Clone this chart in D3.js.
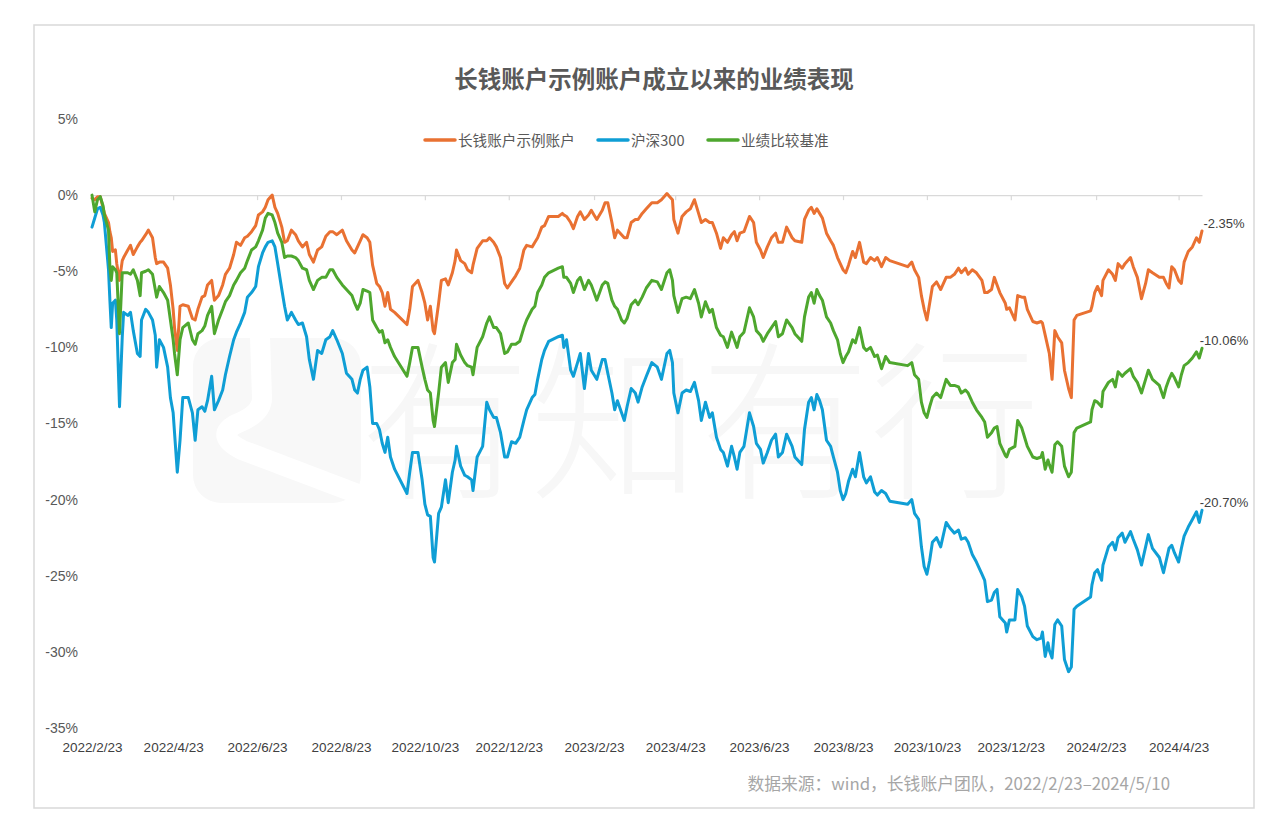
<!DOCTYPE html>
<html><head><meta charset="utf-8">
<script src="https://cdn.jsdelivr.net/npm/d3@7"></script>
<style>body{margin:0;background:#fff;overflow:hidden}</style>
</head><body><svg id="c" width="1280" height="837"></svg>
<script>
// ---- data ----
const startDateLabel = "2022/2/23";
const endDateLabel = "2024/5/10";
// trading-day samples, as day offsets from 2022/2/23
const dayOffsets = [
0,2,4,6,8,9,12,13,14,15,
17,18,20,22,23,26,28,30,33,35,
36,39,41,44,46,47,49,52,55,57,
59,60,62,64,66,70,73,75,77,80,
82,84,87,89,92,95,97,100,103,105,
108,111,113,116,119,121,124,126,128,131,
133,135,138,140,142,145,148,150,153,156,
158,161,164,167,170,173,175,178,182,185,
189,191,193,195,197,200,202,204,207,209,
211,213,215,217,220,229,231,233,237,240,
242,244,246,248,249,252,254,257,259,262,
264,265,268,271,273,276,277,280,284,287,
289,292,294,297,300,302,305,308,311,314,
316,320,322,324,327,329,332,339,342,343,
345,348,350,353,355,358,361,363,365,367,
371,373,375,378,380,382,385,387,389,392,
395,397,400,403,407,411,414,418,420,422,
423,426,429,432,435,438,441,443,446,449,
451,454,457,459,462,465,467,469,471,474,
478,481,483,486,488,491,494,497,499,502,
505,509,511,516,518,521,523,525,527,529,
531,534,537,539,542,544,546,548,550,553,
555,558,561,563,566,569,571,574,577,580,
593,596,598,601,603,605,607,609,611,614,
617,621,624,627,630,632,635,637,640,643,
647,649,651,654,656,658,660,664,665,667,
671,673,676,678,680,684,687,690,691,693,
695,696,698,700,702,705,707,710,712,714,
716,726,727,729,731,734,735,739,742,744,
746,749,751,755,757,760,763,766,768,771,
776,779,781,783,785,787,790,792,794,797,
800,803,805,807];
// 长钱账户示例账户 (%)
const accountValues = [
-0.2,-0.3,-0.1,-0.1,-0.8,-1.2,-1.8,-2.4,-2.8,-3.7,
-3.6,-4.5,-5.6,-4.3,-4.1,-3.6,-3.3,-3.9,-3.4,-3.1,
-3.0,-2.6,-2.3,-2.8,-4.1,-4.5,-4.4,-4.4,-4.8,-5.9,
-7.5,-8.7,-10.2,-7.3,-7.2,-7.3,-8.1,-8.2,-7.5,-6.7,
-6.6,-5.9,-5.6,-6.9,-6.6,-5.9,-5.2,-4.8,-3.9,-3.1,
-3.3,-2.8,-2.7,-2.4,-2.0,-1.3,-1.1,-0.8,-0.3,0.0,
-0.8,-1.2,-2.1,-3.1,-3.0,-2.3,-2.6,-3.0,-3.4,-3.1,
-3.9,-4.4,-3.6,-3.4,-2.7,-2.4,-2.4,-2.6,-2.3,-3.0,
-3.6,-3.8,-3.4,-3.0,-2.6,-2.8,-3.1,-4.6,-5.8,-6.0,
-6.4,-7.3,-6.4,-7.5,-7.7,-8.5,-7.5,-6.0,-5.6,-6.4,
-7.1,-8.2,-7.3,-8.9,-9.1,-7.1,-5.6,-5.5,-5.9,-5.1,
-4.3,-3.6,-4.3,-4.5,-4.9,-5.1,-4.6,-3.5,-3.0,-3.0,
-2.8,-3.1,-3.4,-4.1,-5.8,-6.1,-5.7,-5.3,-4.8,-3.6,
-3.3,-3.4,-3.1,-2.8,-2.1,-2.0,-1.4,-1.4,-1.2,-1.3,
-1.4,-1.8,-2.2,-1.4,-1.1,-1.6,-1.3,-1.0,-1.3,-1.6,
-1.0,-0.5,-0.5,-1.8,-2.8,-2.3,-2.6,-2.8,-2.8,-1.8,
-1.6,-1.6,-1.2,-0.9,-0.5,-0.5,-0.3,0.1,-0.1,-0.3,
-1.6,-2.5,-1.4,-1.1,-0.9,-0.3,-1.2,-1.8,-1.6,-1.8,
-1.8,-2.5,-3.5,-2.8,-3.1,-2.6,-2.4,-3.0,-2.5,-2.4,
-1.4,-1.8,-3.1,-3.6,-4.1,-3.4,-2.8,-2.5,-3.1,-3.1,
-2.1,-2.8,-3.0,-3.1,-1.6,-1.0,-0.8,-1.2,-0.9,-1.2,
-1.5,-2.5,-3.0,-3.3,-4.1,-4.5,-4.9,-5.1,-4.6,-3.7,
-4.1,-3.1,-4.4,-4.5,-4.1,-4.3,-4.1,-4.7,-4.1,-4.3,
-4.7,-4.4,-4.9,-5.4,-6.6,-7.5,-8.2,-7.1,-6.0,-5.7,
-6.2,-5.4,-5.4,-5.2,-4.8,-5.1,-4.8,-5.2,-4.9,-5.1,
-5.6,-6.4,-6.4,-6.2,-5.4,-5.9,-6.4,-7.1,-7.5,-7.4,
-8.2,-6.6,-6.7,-6.7,-7.5,-8.3,-8.4,-8.3,-8.4,-9.2,
-10.0,-10.4,-12.1,-8.9,-9.3,-9.7,-11.5,-12.7,-13.3,-8.2,
-7.9,-7.6,-7.3,-6.4,-6.0,-6.6,-5.6,-4.9,-5.2,-5.6,
-4.5,-4.8,-4.5,-4.1,-4.7,-5.4,-6.8,-5.8,-4.9,-5.1,
-5.4,-5.4,-5.8,-6.1,-4.7,-4.9,-5.6,-5.8,-4.4,-3.7,
-3.4,-2.8,-3.1,-2.35];
// 沪深300 (%)
const csi300Values = [
-2.1,-1.5,-0.9,-0.8,-1.3,-1.8,-4.9,-6.9,-8.7,-7.1,
-6.9,-8.2,-13.9,-9.3,-7.7,-7.9,-7.7,-8.9,-10.4,-10.6,
-8.2,-7.5,-7.7,-8.2,-9.2,-11.3,-9.5,-10.0,-11.3,-13.3,
-14.3,-15.6,-18.2,-16.1,-13.3,-13.3,-14.3,-16.1,-14.1,-13.9,
-14.2,-13.5,-11.9,-14.1,-13.5,-12.8,-11.8,-10.6,-9.5,-9.0,
-8.4,-7.7,-6.7,-6.4,-6.0,-4.7,-3.8,-3.4,-3.1,-3.0,
-3.4,-4.5,-6.2,-7.3,-8.2,-7.7,-8.2,-8.5,-8.4,-9.3,
-10.8,-12.1,-10.2,-10.4,-9.5,-9.3,-8.9,-9.5,-10.4,-11.7,
-12.1,-12.8,-13.0,-12.1,-11.5,-11.3,-12.6,-15.0,-15.0,-15.4,
-16.3,-16.9,-15.9,-17.2,-18.0,-19.6,-18.2,-16.9,-16.9,-18.7,
-20.3,-21.0,-21.1,-23.8,-24.1,-20.9,-20.5,-18.7,-20.2,-18.2,
-17.4,-16.5,-17.8,-18.4,-18.5,-18.7,-19.4,-17.2,-16.5,-13.6,
-14.1,-14.6,-14.6,-15.6,-17.2,-17.2,-16.2,-16.3,-15.9,-14.8,
-14.1,-13.3,-13.1,-12.1,-10.8,-10.2,-9.6,-9.3,-9.2,-10.0,
-9.5,-11.5,-11.9,-11.0,-10.4,-12.7,-10.4,-11.5,-11.8,-12.1,
-10.8,-10.8,-11.7,-13.0,-14.1,-13.5,-14.3,-14.8,-13.9,-12.7,
-13.0,-13.6,-12.6,-11.9,-11.0,-11.3,-12.1,-10.4,-10.2,-11.0,
-13.0,-14.3,-13.0,-12.8,-12.9,-12.3,-13.5,-14.8,-13.6,-14.6,
-14.3,-15.9,-16.7,-16.9,-17.8,-16.5,-17.2,-18.0,-16.9,-16.5,
-14.3,-15.2,-16.3,-16.7,-17.6,-16.9,-16.1,-15.7,-17.2,-16.9,
-15.7,-16.5,-17.2,-17.7,-15.4,-13.6,-13.3,-14.1,-13.1,-13.5,
-14.1,-16.1,-16.5,-17.2,-18.2,-19.4,-20.0,-19.6,-18.8,-18.0,
-18.5,-16.9,-18.5,-18.9,-18.5,-19.5,-19.7,-19.4,-19.6,-20.1,
-20.3,-20.0,-20.9,-21.3,-23.1,-24.4,-24.9,-24.0,-22.8,-22.5,
-23.1,-21.5,-21.9,-22.2,-22.0,-22.6,-22.5,-22.8,-23.6,-24.1,
-24.9,-25.3,-26.7,-26.6,-26.1,-25.9,-27.7,-28.1,-28.7,-27.9,
-27.9,-25.9,-26.4,-27.0,-28.3,-29.0,-29.2,-29.1,-28.7,-30.3,
-29.4,-29.9,-30.4,-28.2,-27.9,-28.3,-30.5,-31.3,-31.0,-27.2,
-27.0,-26.4,-25.6,-24.8,-24.6,-25.3,-24.3,-23.1,-22.8,-23.3,
-22.5,-22.2,-22.8,-22.1,-22.6,-23.3,-24.3,-23.1,-22.3,-23.2,
-23.8,-24.8,-24.0,-23.2,-23.0,-23.5,-24.1,-23.2,-22.4,-21.8,
-21.3,-20.8,-21.5,-20.70];
// 业绩比较基准 (%)
const benchmarkValues = [
0,-1.1,-0.3,-0.1,-0.7,-1.3,-2.3,-4.7,-5.6,-4.7,
-4.9,-5.1,-9.1,-5.1,-5.1,-5.1,-5.2,-4.9,-5.6,-6.6,
-5.1,-5.0,-4.9,-5.2,-6.2,-6.7,-6.0,-6.4,-6.9,-8.2,
-9.5,-10.4,-11.8,-9.5,-8.7,-8.4,-9.5,-9.8,-9.1,-8.9,
-8.6,-7.9,-7.3,-9.1,-8.2,-7.5,-7.0,-6.6,-5.9,-5.6,
-5.1,-4.8,-4.3,-3.6,-3.4,-3.0,-2.3,-1.5,-1.2,-1.3,
-1.8,-2.5,-3.1,-4.1,-4.0,-4.0,-4.1,-4.3,-4.8,-4.9,
-5.6,-6.2,-5.6,-5.4,-5.4,-4.9,-4.9,-5.4,-5.9,-6.2,
-6.6,-7.1,-7.5,-7.1,-6.2,-6.3,-6.4,-8.2,-8.7,-9.0,
-8.9,-9.7,-9.5,-10.0,-10.6,-11.9,-11.0,-10.0,-10.0,-11.3,
-12.1,-12.8,-13.0,-14.8,-15.2,-13.0,-11.3,-11.0,-12.3,-11.0,
-10.8,-9.8,-10.5,-11.0,-11.2,-11.3,-11.8,-10.0,-9.3,-8.4,
-8.0,-8.7,-8.7,-9.1,-10.4,-10.3,-9.8,-9.8,-9.6,-8.7,
-8.2,-7.5,-7.3,-6.4,-5.9,-5.4,-5.1,-4.8,-4.7,-5.4,
-5.4,-5.8,-6.4,-5.6,-5.4,-6.2,-5.6,-5.9,-6.4,-6.9,
-5.9,-5.7,-5.8,-6.9,-7.3,-7.5,-8.2,-8.4,-8.1,-7.2,
-6.9,-7.2,-6.7,-6.1,-5.6,-5.7,-6.2,-5.1,-4.9,-5.6,
-6.6,-7.7,-6.8,-6.7,-6.8,-6.2,-7.1,-8.0,-7.0,-7.7,
-7.5,-8.7,-9.2,-9.3,-10.0,-9.0,-9.5,-10.0,-9.3,-9.0,
-7.4,-8.0,-8.9,-9.2,-9.6,-9.1,-8.7,-8.3,-9.3,-9.1,
-8.2,-8.7,-9.1,-9.6,-8.0,-6.7,-6.4,-7.1,-6.2,-6.6,
-6.9,-8.0,-8.4,-8.9,-9.5,-10.4,-11.0,-10.6,-10.3,-9.5,
-9.7,-8.7,-10.0,-10.2,-10.0,-10.6,-10.5,-11.4,-10.6,-11.0,
-11.2,-11.0,-11.8,-12.1,-13.6,-14.3,-14.6,-13.9,-13.3,-13.0,
-13.3,-12.1,-12.5,-12.5,-12.6,-13.0,-12.8,-13.0,-13.6,-14.1,
-14.6,-14.9,-15.9,-15.6,-15.3,-15.2,-16.3,-17.1,-17.2,-16.7,
-16.5,-14.8,-15.3,-15.9,-16.5,-17.2,-17.3,-17.2,-16.9,-18.0,
-17.4,-17.7,-18.2,-16.4,-16.2,-16.5,-17.8,-18.5,-18.2,-15.6,
-15.3,-14.9,-14.1,-13.5,-13.6,-13.9,-12.9,-12.3,-12.1,-12.6,
-11.6,-11.9,-11.7,-11.4,-11.9,-12.3,-13.0,-12.1,-11.5,-12.1,
-12.5,-13.3,-12.6,-12.1,-11.7,-12.0,-12.6,-11.8,-11.2,-11.0,
-10.7,-10.3,-10.7,-10.06];
const seriesNames = ["长钱账户示例账户", "沪深300", "业绩比较基准"];
const seriesColors = ["#E97132", "#0F9ED5", "#4EA72E"];
const xTickLabels = ["2022/2/23","2022/4/23","2022/6/23","2022/8/23","2022/10/23","2022/12/23",
  "2023/2/23","2023/4/23","2023/6/23","2023/8/23","2023/10/23","2023/12/23","2024/2/23","2024/4/23"];
const yTickValues = [5, 0, -5, -10, -15, -20, -25, -30, -35];
const titleText = "长钱账户示例账户成立以来的业绩表现";
const sourceText = "数据来源：wind，长钱账户团队，2022/2/23–2024/5/10";
const watermarkText = "有知有行";

// ---- drawing ----
const parse = d3.timeParse("%Y/%m/%d");
const start = parse(startDateLabel);
const dates = dayOffsets.map(d => d3.timeDay.offset(start, d));
const seriesValues = [accountValues, csi300Values, benchmarkValues];

const svg = d3.select("#c");
const W = 1280, H = 837;
svg.append("rect").attr("width", W).attr("height", H).attr("fill", "#fff");
svg.append("rect").attr("x", 34).attr("y", 25).attr("width", 1220).attr("height", 783)
  .attr("fill", "#fff").attr("stroke", "#d9d9d9").attr("stroke-width", 1.5);

const x = d3.scaleTime().domain([start, parse(endDateLabel)]).range([92, 1202]);
const y = d3.scaleLinear().domain([-35, 5]).range([728, 119]);

// watermark
const wm = svg.append("g");
wm.append("rect").attr("x", 193).attr("y", 338).attr("width", 168).attr("height", 165).attr("rx", 28)
  .attr("fill", "#f8f8f8");
wm.append("path").attr("d", "M260,336 L262,398 Q262,414 236,424 Q214,436 242,450 L366,497")
  .attr("fill", "none").attr("stroke", "#fff").attr("stroke-width", 20);
wm.append("text").attr("x", 360).attr("y", 486).text(watermarkText)
  .attr("font-family", "'Noto Sans CJK SC'").attr("font-weight", 300).attr("font-size", 170)
  .attr("fill", "#f7f7f7");

// title
svg.append("text").attr("x", 654).attr("y", 88).attr("text-anchor", "middle")
  .attr("font-family", "'Noto Sans CJK SC', sans-serif").attr("font-weight", 700)
  .attr("font-size", 23.5).attr("fill", "#595959").text(titleText);

// legend
const legendX = [425, 598, 708];
const lg = svg.append("g");
seriesNames.forEach((n, i) => {
  lg.append("line").attr("x1", legendX[i]).attr("x2", legendX[i] + 30).attr("y1", 140).attr("y2", 140)
    .attr("stroke", seriesColors[i]).attr("stroke-width", 3.5).attr("stroke-linecap", "round");
  lg.append("text").attr("x", legendX[i] + 33).attr("y", 146).text(n)
    .attr("font-family", "'Noto Sans CJK SC', sans-serif").attr("font-size", 14.6).attr("fill", "#595959");
});

// y axis labels
const yAxis = svg.append("g").attr("transform", "translate(78,0)")
  .call(d3.axisLeft(y).tickValues(yTickValues).tickFormat(d => d + "%").tickSize(0).tickPadding(0));
yAxis.select(".domain").remove();
yAxis.selectAll("text").attr("font-family", "'Liberation Sans', Arial, sans-serif").attr("font-size", 14).attr("fill", "#595959");

// zero axis line with ticks
const tickDates = xTickLabels.map(parse);
const zeroAxis = svg.append("g").attr("transform", `translate(0,${y(0)})`)
  .call(d3.axisBottom(x).tickValues(tickDates).tickFormat("").tickSize(5).tickSizeOuter(0));
zeroAxis.select(".domain").attr("stroke", "#d9d9d9").attr("stroke-width", 1.2);
zeroAxis.selectAll(".tick line").attr("stroke", "#d9d9d9").attr("stroke-width", 1.2);

// x labels at bottom
const xAxis = svg.append("g").attr("transform", "translate(0,742)")
  .call(d3.axisBottom(x).tickValues(tickDates).tickFormat((d, i) => xTickLabels[i]).tickSize(0).tickPadding(0));
xAxis.select(".domain").remove();
xAxis.selectAll("text").attr("font-family", "'Liberation Sans', Arial, sans-serif").attr("font-size", 13.5).attr("fill", "#404040");

// lines
const line = d3.line().x(d => x(d.date)).y(d => y(d.v));
seriesValues.forEach((vals, i) => {
  const data = dates.map((d, j) => ({date: d, v: vals[j]}));
  svg.append("path").datum(data).attr("d", line).attr("fill", "none")
    .attr("stroke", seriesColors[i]).attr("stroke-width", 3).attr("stroke-linejoin", "round").attr("stroke-linecap", "round");
});

// end labels
seriesValues.forEach((vals, i) => {
  const last = vals[vals.length - 1];
  const ld = dates[dates.length - 1];
  svg.append("text").attr("x", x(ld) + 22).attr("y", y(last) - 3).attr("text-anchor", "middle")
    .attr("font-family", "'Liberation Sans', Arial, sans-serif").attr("font-size", 13).attr("fill", "#404040")
    .text(last.toFixed(2) + "%");
});

// source
svg.append("text").attr("x", 1170).attr("y", 790).attr("text-anchor", "end")
  .attr("font-family", "'Noto Sans CJK SC', sans-serif").attr("font-size", 16.8).attr("fill", "#a6a6a6")
  .text(sourceText);
</script>
</body></html>
